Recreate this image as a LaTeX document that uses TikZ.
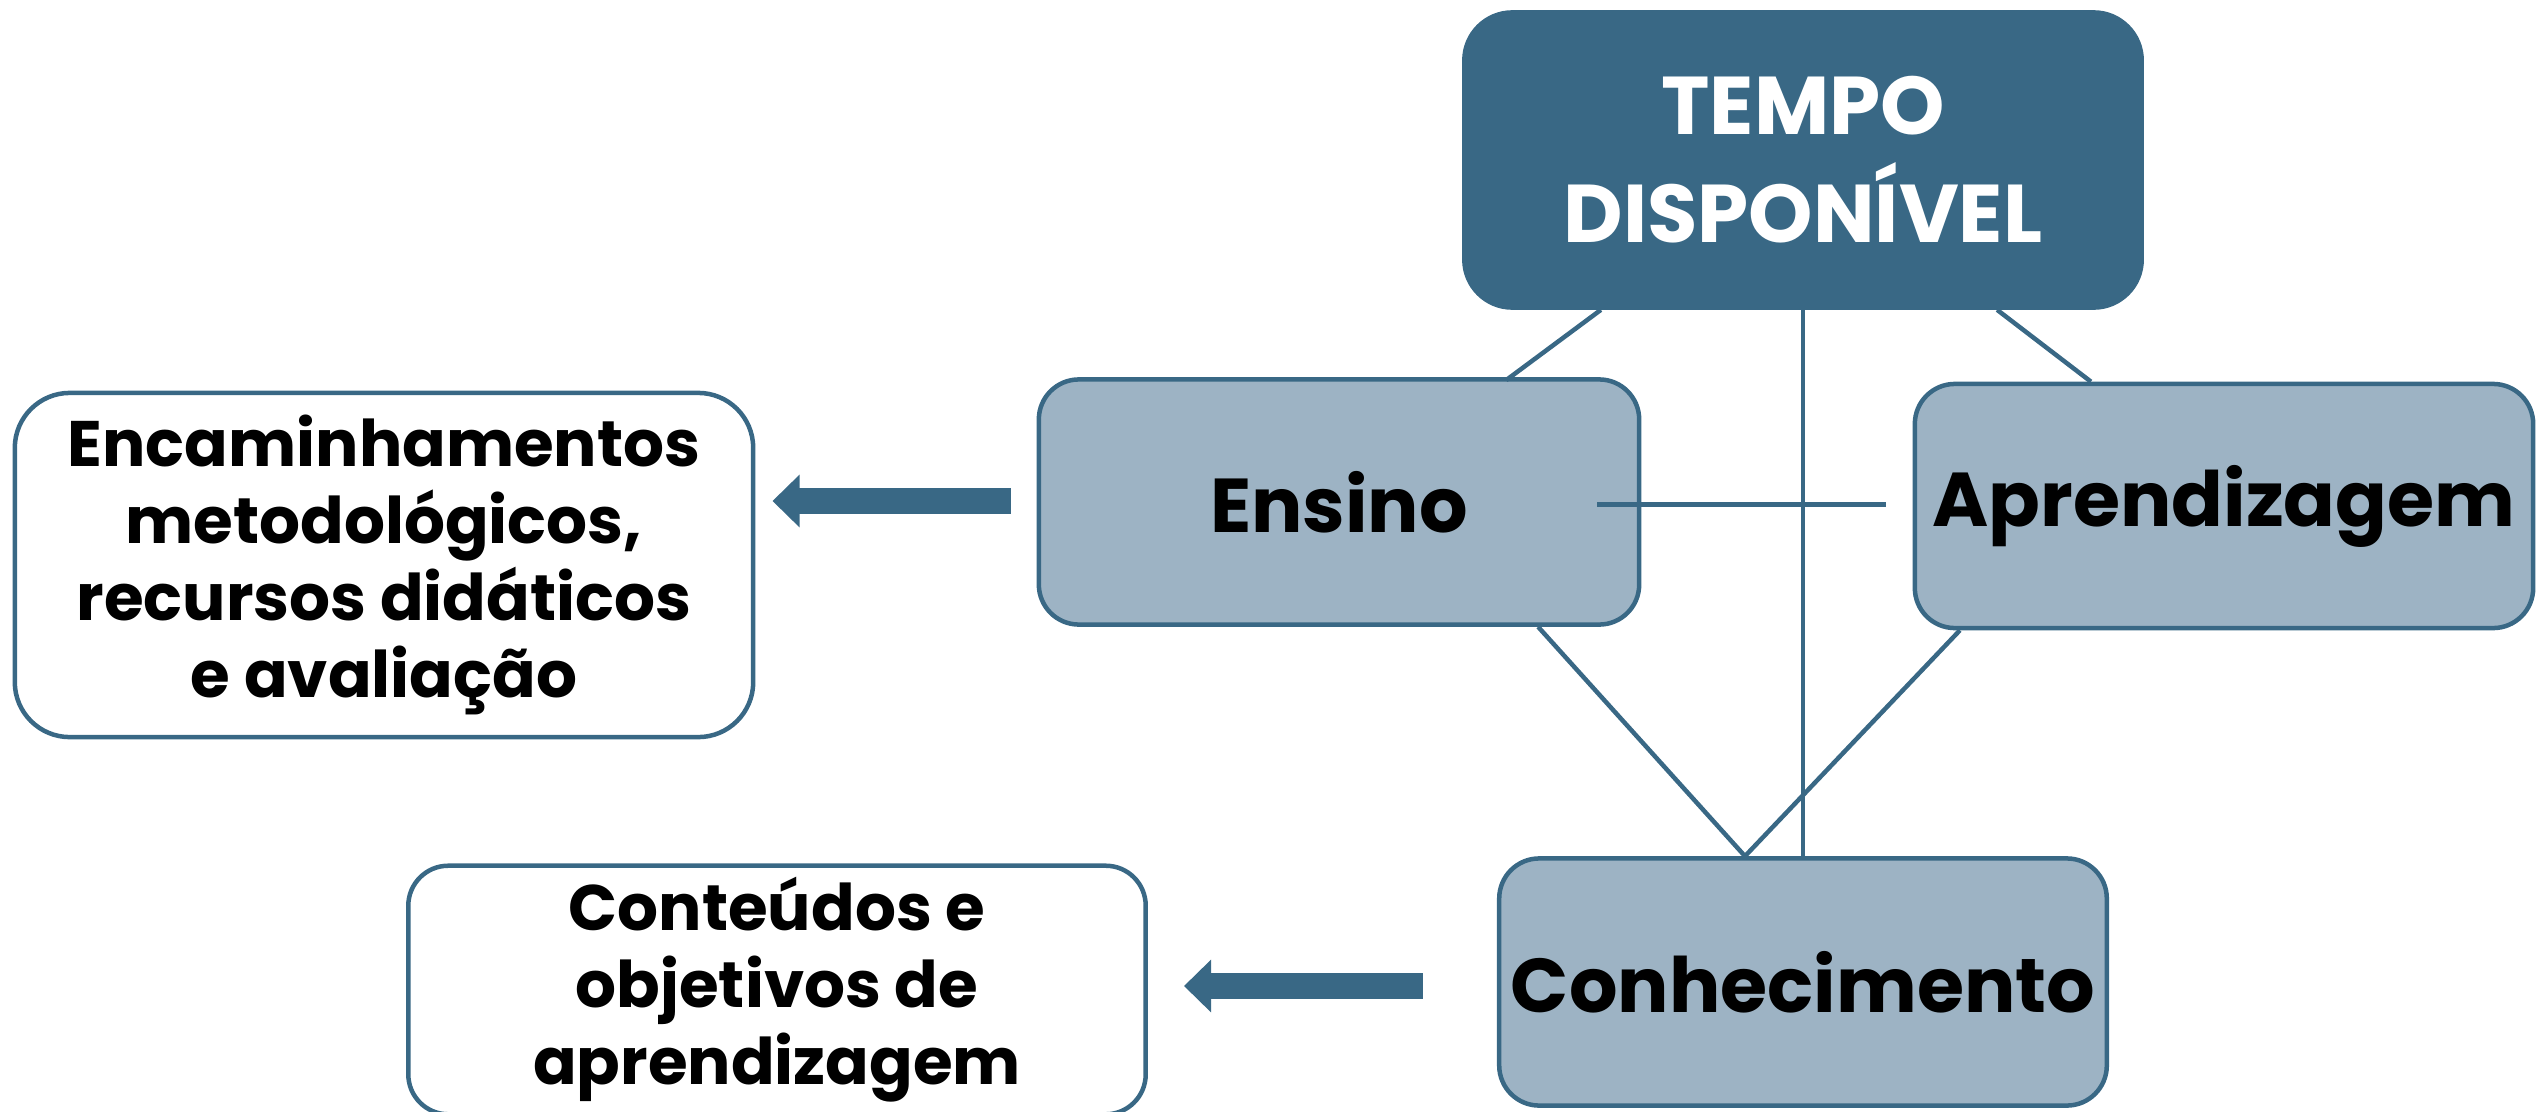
\documentclass[tikz,border=0pt]{standalone}
\usepackage{fontspec}
\setmainfont{Poppins}
\usetikzlibrary{arrows.meta}
\definecolor{azulesc}{RGB}{57,104,133}
\definecolor{azulcl}{RGB}{157,179,196}
\begin{document}
\begin{tikzpicture}[x=0.01cm, y=-0.01cm,
	caixa/.style={draw=azulesc, line width=0.045cm, fill=azulcl, rounded corners=0.4cm, align=center,
		font=\bfseries\fontsize{21.7}{30.7}\selectfont},
	nota/.style={draw=azulesc, line width=0.045cm, fill=white, rounded corners=0.55cm, align=center,
		font=\bfseries\fontsize{18.3}{21.9}\selectfont},
	liga/.style={azulesc, line width=0.045cm},
	seta/.style={azulesc, line width=0.26cm, -{Triangle[length=0.27cm, width=0.51cm]}}]
	\useasboundingbox (0,0) rectangle (2539,1112);
	% caixas principais
	\node[caixa, fill=azulesc, text=white, rounded corners=0.48cm, minimum width=6.77cm, minimum height=2.95cm,
		font=\bfseries\fontsize{23.3}{30.7}\selectfont] (tempo) at (1803,160) {TEMPO\\DISPON\'IVEL};
	\node[caixa, minimum width=6cm, minimum height=2.45cm] (ensino) at (1339,502) {Ensino};
	\node[caixa, minimum width=6.18cm, minimum height=2.44cm] (aprend) at (2224,506) {Aprendizagem};
	\node[caixa, minimum width=6.03cm, minimum height=2.47cm] (conhec) at (1803,982) {Conhecimento};
	% caixas laterais
	\node[nota, minimum width=7.38cm, minimum height=3.44cm] (encam) at (384,565) {Encaminhamentos\\metodológicos,\\recursos didáticos\\e avaliação};
	\node[nota, rounded corners=0.4cm, minimum width=7.37cm, minimum height=2.43cm] (conteud) at (777,990) {Conteúdos e\\objetivos de\\aprendizagem};
	% ligacoes
	\draw[liga] ([xshift=-2.02cm]tempo.south) -- ([xshift=1.67cm, yshift=-0.03cm]ensino.north);
	\draw[liga] ([xshift=1.94cm]tempo.south) -- ([xshift=-1.33cm]aprend.north);
	\draw[liga] (tempo.south) -- (conhec.north);
	\draw[liga] ([xshift=1.99cm]ensino.south) -- ([xshift=-0.58cm]conhec.north);
	\draw[liga] ([xshift=-2.64cm]aprend.south) -- ([xshift=-0.58cm]conhec.north);
	\draw[liga, line width=0.05cm] ([xshift=-0.44cm, yshift=-0.02cm]ensino.east) -- ++(289,0);
	% setas
	\draw[seta, shorten <=0.26cm, shorten >=0.17cm] ([yshift=0.01cm]ensino.west) -- ([yshift=0.01cm]ensino.west -| encam.east);
	\draw[seta, shorten <=0.74cm, shorten >=0.36cm] ([yshift=-0.04cm]conhec.west) -- ([yshift=-0.04cm]conhec.west -| conteud.east);
\end{tikzpicture}
\end{document}
